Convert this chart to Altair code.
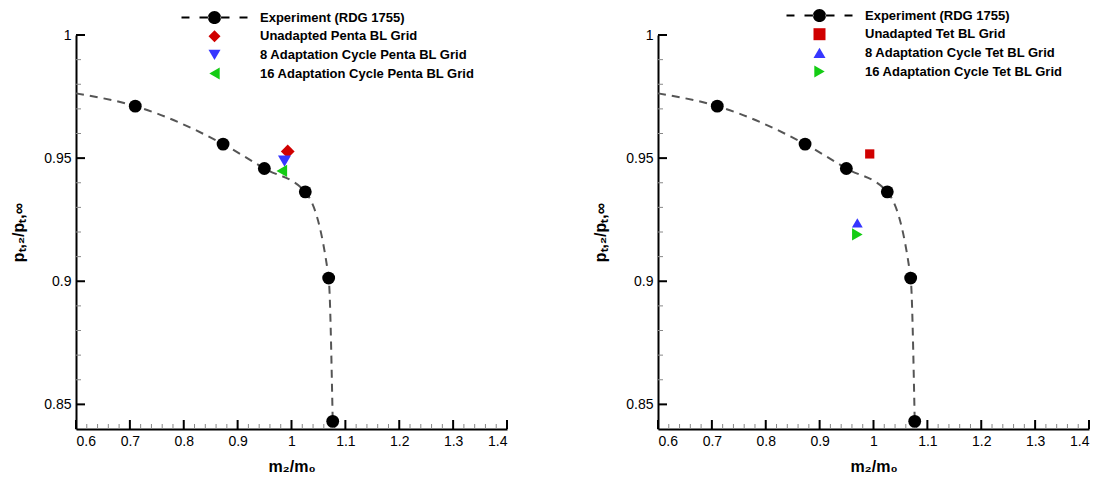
import altair as alt
import pandas as pd

# ---- data ----
exp_label = "Experiment (RDG 1755)"
exp_x = [0.710, 0.873, 0.9496, 1.0256, 1.069, 1.0765]
exp_y = [0.9711, 0.9557, 0.9458, 0.9363, 0.9013, 0.8431]
# dashed fit curve through the experiment (starts at the left edge)
curve_x = [0.6, 0.710, 0.873, 0.9496, 1.0256, 1.069, 1.0765]
curve_y = [0.9763, 0.9711, 0.9557, 0.9458, 0.9363, 0.9013, 0.8431]

penta_series = ["Unadapted Penta BL Grid", "8 Adaptation Cycle Penta BL Grid",
                "16 Adaptation Cycle Penta BL Grid"]
penta_x = [0.993, 0.987, 0.982]
penta_y = [0.9527, 0.9488, 0.9448]

tet_series = ["Unadapted Tet BL Grid", "8 Adaptation Cycle Tet BL Grid",
              "16 Adaptation Cycle Tet BL Grid"]
tet_x = [0.993, 0.970, 0.970]
tet_y = [0.9517, 0.9237, 0.9190]

x_major = [0.6, 0.7, 0.8, 0.9, 1.0, 1.1, 1.2, 1.3, 1.4]
x_minor = [0.62, 0.64, 0.66, 0.68, 0.72, 0.74, 0.76, 0.78, 0.82, 0.84, 0.86, 0.88,
           0.92, 0.94, 0.96, 0.98, 1.02, 1.04, 1.06, 1.08, 1.12, 1.14, 1.16, 1.18,
           1.22, 1.24, 1.26, 1.28, 1.32, 1.34, 1.36, 1.38]
y_major = [0.85, 0.9, 0.95, 1.0]
y_minor = [0.86, 0.87, 0.88, 0.89, 0.91, 0.92, 0.93, 0.94, 0.96, 0.97, 0.98, 0.99]

colors = ["#000000", "#d00000", "#3636ff", "#14cc14"]
FONT = "Liberation Sans"
W, H = 431, 394

# legend symbol for the experiment: dashed line with a filled circle
EXP_PATH = ("M-5.5,-0.17L-4.17,-0.17L-4.17,0.17L-5.5,0.17Z "
            "M-2.5,-0.17L-1,-0.17L-1,0.17L-2.5,0.17Z "
            "M1,-0.17L2.5,-0.17L2.5,0.17L1,0.17Z "
            "M4.17,-0.17L5.5,-0.17L5.5,0.17L4.17,0.17Z "
            "M-1.1,0A1.1,1.1 0 1,0 1.1,0A1.1,1.1 0 1,0 -1.1,0Z")


def panel(series, mx, my, shapes, sizes, leg_x, leg_y):
    cur_df = pd.DataFrame({"x": curve_x, "y": curve_y})
    exp_df = pd.DataFrame({"x": exp_x, "y": exp_y})
    mk_df = pd.DataFrame({"series": series, "x": mx, "y": my})
    xs = alt.Scale(domain=[0.6, 1.4], nice=False, zero=False)
    ys = alt.Scale(domain=[0.84, 1.0], nice=False, zero=False)
    xax = alt.Axis(values=x_major, format="~g", tickSize=0,
                   labelPadding=5, domainColor="black", domainWidth=2,
                   title="m₂/m₀", titleFontSize=16, titleFontWeight="bold",
                   titlePadding=10, grid=False)
    yax = alt.Axis(values=y_major, format="~g", tickSize=0,
                   labelPadding=5, domainColor="black", domainWidth=2,
                   title="pₜ,₂/pₜ,∞", titleFontSize=16, titleFontWeight="bold",
                   titlePadding=17, grid=False)

    # inward-pointing tick marks
    xt_maj = alt.Chart(pd.DataFrame({"v": x_major})).mark_rule(
        color="black", strokeWidth=2).encode(
        x=alt.X("v:Q", scale=xs, axis=xax), y=alt.value(H), y2=alt.value(H - 9))
    xt_min = alt.Chart(pd.DataFrame({"v": x_minor})).mark_rule(
        color="#888888", strokeWidth=1).encode(
        x=alt.X("v:Q", scale=xs, axis=xax), y=alt.value(H), y2=alt.value(H - 5))
    yt_maj = alt.Chart(pd.DataFrame({"v": y_major})).mark_rule(
        color="black", strokeWidth=2).encode(
        y=alt.Y("v:Q", scale=ys, axis=yax), x=alt.value(0), x2=alt.value(9))
    yt_min = alt.Chart(pd.DataFrame({"v": y_minor})).mark_rule(
        color="#888888", strokeWidth=1).encode(
        y=alt.Y("v:Q", scale=ys, axis=yax), x=alt.value(0), x2=alt.value(5))

    line = alt.Chart(cur_df).mark_line(
        color="#555555", strokeWidth=2, strokeDash=[8, 6], interpolate="monotone"
    ).encode(x=alt.X("x:Q", scale=xs, axis=xax), y=alt.Y("y:Q", scale=ys, axis=yax))

    pts = alt.Chart(exp_df).mark_point(
        filled=True, shape="circle", size=165, color="black", opacity=1
    ).encode(x=alt.X("x:Q", scale=xs, axis=xax), y=alt.Y("y:Q", scale=ys, axis=yax))

    dom = [exp_label] + series
    leg = alt.Legend(orient="none", legendX=leg_x, legendY=leg_y, title=None)
    mk = alt.Chart(mk_df).mark_point(filled=True, opacity=1).encode(
        x=alt.X("x:Q", scale=xs, axis=xax),
        y=alt.Y("y:Q", scale=ys, axis=yax),
        color=alt.Color("series:N", scale=alt.Scale(domain=dom, range=colors), legend=leg),
        shape=alt.Shape("series:N", scale=alt.Scale(domain=dom, range=[EXP_PATH] + shapes),
                        legend=leg),
        size=alt.Size("series:N", scale=alt.Scale(domain=series, range=sizes), legend=None),
    )
    return alt.layer(xt_min, xt_maj, yt_min, yt_maj, line, pts, mk).properties(
        width=W, height=H)


left = panel(penta_series, penta_x, penta_y,
             ["diamond", "triangle-down", "triangle-left"], [190, 150, 150], 132, -24)
right = panel(tet_series, tet_x, tet_y,
              ["square", "triangle-up", "triangle-right"], [85, 150, 150], 155, -26)

chart = alt.hconcat(left, right, spacing=84).resolve_scale(
    color="independent", shape="independent", size="independent"
).properties(
    padding={"left": 10, "top": 9, "right": 5, "bottom": 5}
).configure_view(stroke=None).configure_axis(
    labelFont=FONT, labelFontSize=14, labelColor="black", titleFont=FONT, titleColor="black"
).configure_legend(
    labelFont=FONT, labelFontSize=13, labelFontWeight="bold", labelColor="black",
    labelLimit=0, symbolSize=144, labelOffset=39, rowPadding=4.7, padding=0,
    symbolStrokeWidth=0, symbolOpacity=1
)

chart.save("out.html", embed_options={"renderer": "svg", "actions": False})
